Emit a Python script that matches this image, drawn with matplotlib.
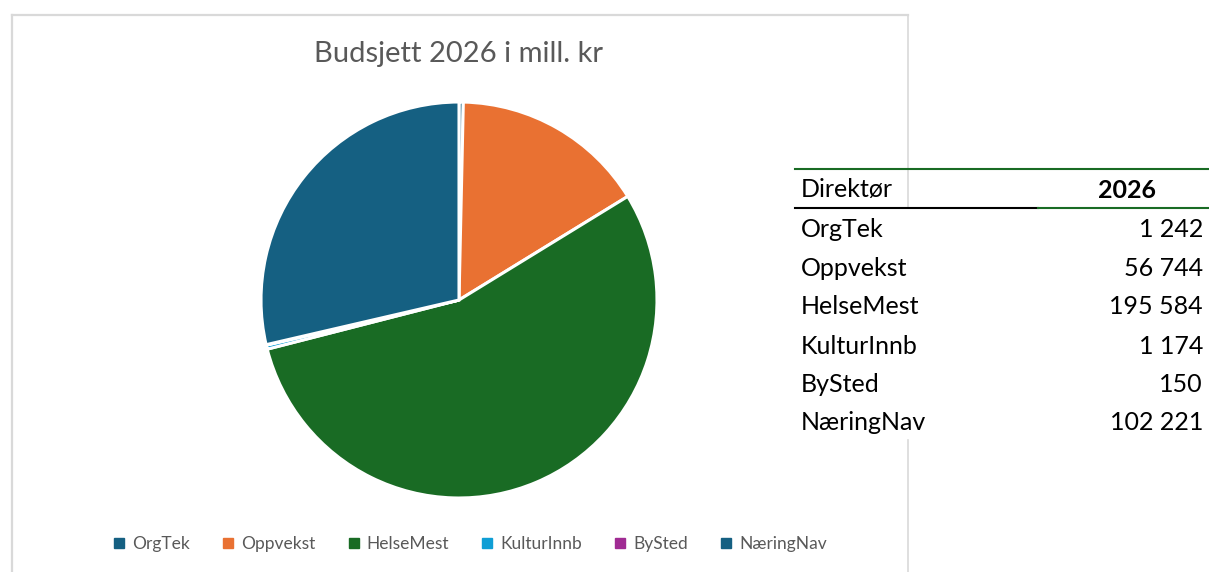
import matplotlib
matplotlib.use("Agg")
import matplotlib.pyplot as plt
from matplotlib.lines import Line2D

plt.rcParams["font.family"] = ["Lato", "DejaVu Sans"]

# data
labels = ["OrgTek", "Oppvekst", "HelseMest", "KulturInnb", "BySted", "NæringNav"]
values = [1242, 56744, 195584, 1174, 150, 102221]
table_values = ["1 242", "56 744", "195 584", "1 174", "150", "102 221"]
colors = ["#156082", "#E97132", "#196B24", "#0F9ED5", "#A02B93", "#156082"]

W, H = 1209, 572
fig = plt.figure(figsize=(W / 100, H / 100), dpi=100)


def fx(px):
    return px / W


def fy(py):
    return 1 - py / H


# chart area border (partly hidden behind the table)
border = "#d9d9d9"
fig.add_artist(Line2D([fx(12), fx(12)], [fy(15), fy(575)], color=border, lw=1.6))
fig.add_artist(Line2D([fx(12), fx(908)], [fy(15), fy(15)], color=border, lw=1.6))
fig.add_artist(Line2D([fx(908), fx(908)], [fy(15), fy(208)], color=border, lw=1.2))
fig.add_artist(Line2D([fx(908), fx(908)], [fy(440), fy(575)], color=border, lw=1.2))

# pie
cx, cy, r = 459, 300, 198
ax = fig.add_axes([fx(cx - r), fy(cy + r), 2 * r / W, 2 * r / H])
ax.pie(values, colors=colors, startangle=90, counterclock=False,
       wedgeprops=dict(edgecolor="white", linewidth=2.2), radius=1)
ax.set_xlim(-1.0, 1.0)
ax.set_ylim(-1.0, 1.0)
ax.set_aspect("equal")
ax.axis("off")

fig.text(fx(459), fy(54), "Budsjett 2026 i mill. kr", ha="center", va="center",
         fontsize=21, color="#595959")

handles = [Line2D([0], [0], marker="s", color="w", mfc=c, mec=c, ms=7, label=l)
           for l, c in zip(labels, colors)]
leg = fig.legend(handles=handles, loc="center", bbox_to_anchor=(fx(470), fy(544)),
                 ncol=6, frameon=False, fontsize=12.5, handlelength=0.7,
                 handletextpad=0.4, columnspacing=1.85)
for t in leg.get_texts():
    t.set_color("#595959")

# table on the right
green = "#196B24"
fs = 18
fig.add_artist(Line2D([fx(795), fx(1209)], [fy(169), fy(169)], color=green, lw=1.5))
fig.add_artist(Line2D([fx(795), fx(1038)], [fy(208), fy(208)], color="black", lw=1.5))
fig.add_artist(Line2D([fx(1038), fx(1209)], [fy(208), fy(208)], color=green, lw=1.5))
fig.text(fx(801), fy(190), "Direktør", ha="left", va="center", fontsize=fs, color="black")
fig.text(fx(1156), fy(190), "2026", ha="right", va="center", fontsize=fs,
         fontweight="bold", color="black")
row_y = [229, 268, 307, 346, 384, 423]
for lab, val, y in zip(labels, table_values, row_y):
    fig.text(fx(801), fy(y), lab, ha="left", va="center", fontsize=fs, color="black")
    fig.text(fx(1203), fy(y), val, ha="right", va="center", fontsize=fs, color="black")

fig.savefig("out.png", dpi=100)
